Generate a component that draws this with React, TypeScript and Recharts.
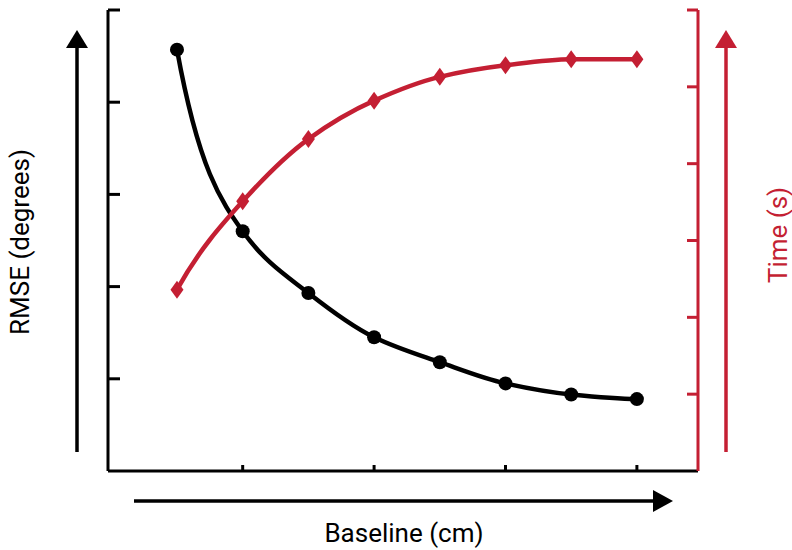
import { ComposedChart, Line, XAxis, YAxis, Customized } from "recharts";

const baseline = [1, 2, 3, 4, 5, 6, 7, 8];
const rmse = [4.57, 2.6, 1.93, 1.45, 1.18, 0.95, 0.83, 0.78];
const time = [2.36, 3.51, 4.32, 4.82, 5.13, 5.28, 5.36, 5.36];
const xTicks = [2, 4, 6, 8];
const leftTicks = [1, 2, 3, 4, 5];
const rightTicks = [1, 2, 3, 4, 5, 6];

const data = baseline.map((x, i) => ({ x, rmse: rmse[i], time: time[i] }));

const RED = "#c41f33";
const FONT = "Roboto, 'Noto Sans', sans-serif";

// smooth curve through the points: piecewise cubic hermite,
// harmonic-mean tangents inside, steep end tangents that stay convex
const smoothCurve = (ctx: any) => {
  let pts: [number, number][] = [];
  return {
    areaStart() {},
    areaEnd() {},
    lineStart() {
      pts = [];
    },
    point(x: number, y: number) {
      pts.push([+x, +y]);
    },
    lineEnd() {
      const n = pts.length;
      if (n === 0) return;
      ctx.moveTo(pts[0][0], pts[0][1]);
      if (n === 1) return;
      if (n === 2) {
        ctx.lineTo(pts[1][0], pts[1][1]);
        return;
      }
      const s: number[] = [];
      for (let i = 0; i < n - 1; i++) {
        s.push((pts[i + 1][1] - pts[i][1]) / (pts[i + 1][0] - pts[i][0]));
      }
      const m: number[] = new Array(n).fill(0);
      for (let i = 1; i < n - 1; i++) {
        m[i] = s[i - 1] * s[i] <= 0 ? 0 : (2 * s[i - 1] * s[i]) / (s[i - 1] + s[i]);
      }
      const endSlope = (sv: number, mv: number) => {
        let e = 3 * sv - 2 * mv;
        if (e * sv <= 0) e = 0;
        if (Math.abs(e) > 3 * Math.abs(sv)) e = 3 * sv;
        return e;
      };
      m[0] = endSlope(s[0], m[1]);
      m[n - 1] = endSlope(s[n - 2], m[n - 2]);
      for (let i = 0; i < n - 1; i++) {
        const [x0, y0] = pts[i];
        const [x1, y1] = pts[i + 1];
        const h = (x1 - x0) / 3;
        ctx.bezierCurveTo(x0 + h, y0 + m[i] * h, x1 - h, y1 - m[i + 1] * h, x1, y1);
      }
    },
  };
};

// no tick labels, only the tick marks
const NoLabel = () => <g />;

const Diamond = (props: any) => {
  const { cx, cy } = props;
  if (cx == null || cy == null) return null;
  return (
    <polygon
      points={`${cx},${cy - 9} ${cx + 6.5},${cy} ${cx},${cy + 9} ${cx - 6.5},${cy}`}
      fill={RED}
    />
  );
};

// arrows and axis titles around the plot
const Decor = () => (
  <g>
    <line x1={77} y1={452} x2={77} y2={46} stroke="#000" strokeWidth={3.5} />
    <polygon points="77,30 66,48 88,48" fill="#000" />
    <line x1={134} y1={501} x2={656} y2={501} stroke="#000" strokeWidth={3.5} />
    <polygon points="673,501 653,490 653,512" fill="#000" />
    <line x1={726} y1={452} x2={726} y2={46} stroke={RED} strokeWidth={3.5} />
    <polygon points="726,30 715,48 737,48" fill={RED} />
    <text
      x={29}
      y={242}
      transform="rotate(-90 29 242)"
      textAnchor="middle"
      fontFamily={FONT}
      fontSize={26}
      fill="#000"
    >
      RMSE (degrees)
    </text>
    <text x={404} y={542} textAnchor="middle" fontFamily={FONT} fontSize={26} fill="#000">
      Baseline (cm)
    </text>
    <text
      x={787}
      y={235}
      transform="rotate(-90 787 235)"
      textAnchor="middle"
      fontFamily={FONT}
      fontSize={26}
      fill={RED}
    >
      Time (s)
    </text>
  </g>
);

export default function App() {
  return (
    <div style={{ position: "absolute", left: 0, top: 0, background: "#fff" }}>
      <ComposedChart
        width={792}
        height={550}
        data={data}
        margin={{ top: 10, right: 94, bottom: 79, left: 108 }}
      >
        <XAxis
          dataKey="x"
          type="number"
          domain={[-0.05, 8.93]}
          ticks={xTicks}
          tick={NoLabel}
          mirror
          tickSize={6}
          axisLine={{ stroke: "#000", strokeWidth: 3 }}
          tickLine={{ stroke: "#000", strokeWidth: 3 }}
        />
        <YAxis
          yAxisId="l"
          domain={[0, 5]}
          ticks={leftTicks}
          tick={NoLabel}
          mirror
          tickSize={12}
          axisLine={{ stroke: "#000", strokeWidth: 3 }}
          tickLine={{ stroke: "#000", strokeWidth: 3 }}
        />
        <YAxis
          yAxisId="r"
          orientation="right"
          domain={[0, 6]}
          ticks={rightTicks}
          tick={NoLabel}
          mirror
          tickSize={11}
          axisLine={{ stroke: RED, strokeWidth: 3 }}
          tickLine={{ stroke: RED, strokeWidth: 3 }}
        />
        <Line
          yAxisId="l"
          dataKey="rmse"
          type={smoothCurve as any}
          stroke="#000"
          strokeWidth={4.5}
          dot={{ r: 7, fill: "#000", stroke: "none" }}
          isAnimationActive={false}
        />
        <Line
          yAxisId="r"
          dataKey="time"
          type={smoothCurve as any}
          stroke={RED}
          strokeWidth={4.5}
          dot={<Diamond />}
          isAnimationActive={false}
        />
        <Customized component={Decor} />
      </ComposedChart>
    </div>
  );
}
